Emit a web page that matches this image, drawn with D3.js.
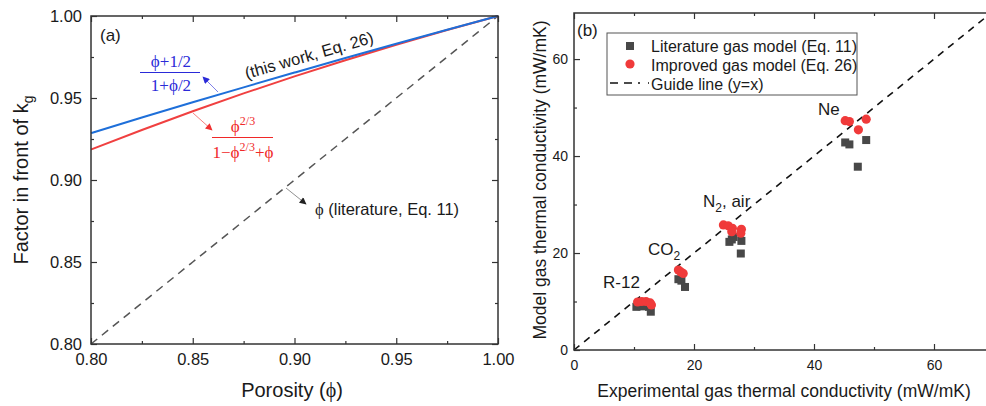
<!DOCTYPE html>
<html>
<head>
<meta charset="utf-8">
<script src="https://cdn.jsdelivr.net/npm/d3@7"></script>
<style>
  html, body { margin: 0; padding: 0; background: #fff; }
  svg { display: block; }
  text { font-family: "Liberation Sans", Arial, sans-serif; fill: #1a1a1a; }
  .serif { font-family: "Liberation Serif", "Times New Roman", serif; }
</style>
</head>
<body>
<svg id="chart" width="986" height="406"></svg>
<script>
// ---------- Panel (a) data ----------
const porosity      = [0.800, 0.825, 0.850, 0.875, 0.900, 0.925, 0.950, 0.975, 1.000];
const factorThisWork = [0.9286, 0.9381, 0.9474, 0.9565, 0.9655, 0.9744, 0.9831, 0.9916, 1.000];
const factorAlt      = [0.9186, 0.9305, 0.9419, 0.9528, 0.9632, 0.9730, 0.9825, 0.9915, 1.000];
const factorLit      = [0.800, 0.825, 0.850, 0.875, 0.900, 0.925, 0.950, 0.975, 1.000];
const aTicks = [0.80, 0.85, 0.90, 0.95, 1.00];
const aMinor = [0.825, 0.875, 0.925, 0.975];

// ---------- Panel (b) data ----------
const litExp   = [10.4, 11.3, 12.5, 12.8, 17.4, 17.9, 18.5, 25.9, 26.3, 26.6, 27.9, 27.8, 45.2, 45.9, 48.7, 47.3];
const litModel = [ 8.9,  9.0,  8.9,  7.9, 14.6, 14.3, 13.0, 22.3, 22.8, 23.3, 22.5, 19.9, 42.8, 42.4, 43.3, 37.8];
const impExp   = [10.6, 11.3, 12.0, 12.7, 12.9, 17.4, 17.8, 18.2, 24.9, 25.7, 26.4, 26.3, 27.9, 27.8, 45.2, 45.9, 47.4, 48.7];
const impModel = [ 9.9, 10.0, 10.0,  9.7,  9.3, 16.5, 16.1, 15.8, 25.8, 25.6, 25.1, 24.4, 24.9, 24.1, 47.3, 47.1, 45.4, 47.6];
const guideLine = [0, 70];
const bTicks = [0, 20, 40, 60];
const bMinor = [10, 30, 50];
const legendLabels = ["Literature gas model (Eq. 11)", "Improved gas model (Eq. 26)", "Guide line (y=x)"];

const svg = d3.select("#chart");
svg.append("rect").attr("width", 986).attr("height", 406).attr("fill", "#fff");

const frameColor = "#333";
const defs = svg.append("defs");
function arrowMarker(id, color) {
  defs.append("marker").attr("id", id).attr("viewBox", "0 0 10 10")
    .attr("refX", 9).attr("refY", 5).attr("markerWidth", 9).attr("markerHeight", 7)
    .attr("markerUnits", "userSpaceOnUse").attr("orient", "auto")
    .append("path").attr("d", "M0,0 L10,5 L0,10 z").attr("fill", color);
}
arrowMarker("arrBlue", "#2a2ad8");
arrowMarker("arrRed", "#f03030");
arrowMarker("arrGray", "#222");

function styleAxis(g, fs) {
  g.select(".domain").remove();
  g.selectAll(".tick line").attr("stroke", frameColor).attr("stroke-width", 1.2);
  g.selectAll(".tick text").attr("font-size", fs).attr("fill", "#1a1a1a")
    .attr("font-family", "Liberation Sans, Arial, sans-serif");
}

// ================= Panel (a) =================
const ax = d3.scaleLinear().domain([0.80, 1.00]).range([91, 498]);
const ay = d3.scaleLinear().domain([0.80, 1.00]).range([344, 16]);
const ga = svg.append("g");

// axes
const fmt2 = d3.format(".2f");
ga.append("g").attr("transform", "translate(0,344)")
  .call(d3.axisBottom(ax).tickValues(aTicks).tickFormat(fmt2).tickSize(-6).tickPadding(9))
  .call(g => styleAxis(g, 16.5));
ga.append("g").attr("transform", "translate(0,344)")
  .call(d3.axisBottom(ax).tickValues(aMinor).tickFormat("").tickSize(-3))
  .call(g => styleAxis(g, 0));
ga.append("g").attr("transform", "translate(0,16)")
  .call(d3.axisTop(ax).tickValues(aTicks).tickFormat("").tickSize(-6))
  .call(g => styleAxis(g, 0));
ga.append("g").attr("transform", "translate(0,16)")
  .call(d3.axisTop(ax).tickValues(aMinor).tickFormat("").tickSize(-3))
  .call(g => styleAxis(g, 0));
ga.append("g").attr("transform", "translate(91,0)")
  .call(d3.axisLeft(ay).tickValues(aTicks).tickFormat(fmt2).tickSize(-6).tickPadding(9))
  .call(g => styleAxis(g, 16.5));
ga.append("g").attr("transform", "translate(91,0)")
  .call(d3.axisLeft(ay).tickValues(aMinor).tickFormat("").tickSize(-3))
  .call(g => styleAxis(g, 0));
ga.append("g").attr("transform", "translate(498,0)")
  .call(d3.axisRight(ay).tickValues(aTicks).tickFormat("").tickSize(-6))
  .call(g => styleAxis(g, 0));
ga.append("g").attr("transform", "translate(498,0)")
  .call(d3.axisRight(ay).tickValues(aMinor).tickFormat("").tickSize(-3))
  .call(g => styleAxis(g, 0));

// lines
const lineA = d3.line().x((d, i) => ax(porosity[i])).y(d => ay(d)).curve(d3.curveMonotoneX);
ga.append("path").datum(factorLit).attr("d", lineA).attr("fill", "none")
  .attr("stroke", "#555").attr("stroke-width", 1.5).attr("stroke-dasharray", "8,6");
ga.append("path").datum(factorAlt).attr("d", lineA).attr("fill", "none")
  .attr("stroke", "#f04040").attr("stroke-width", 2);
ga.append("path").datum(factorThisWork).attr("d", lineA).attr("fill", "none")
  .attr("stroke", "#1e6fd9").attr("stroke-width", 2);

// frame
ga.append("rect").attr("x", 91).attr("y", 16).attr("width", 407).attr("height", 328)
  .attr("fill", "none").attr("stroke", frameColor).attr("stroke-width", 1.5);

// labels
ga.append("text").attr("x", 100).attr("y", 41).attr("font-size", 17).text("(a)");
ga.append("text").attr("x", 292).attr("y", 397).attr("text-anchor", "middle").attr("font-size", 20)
  .call(t => { t.append("tspan").text("Porosity ("); t.append("tspan").attr("class", "serif").text("ϕ"); t.append("tspan").text(")"); });
ga.append("text").attr("transform", "translate(28,180) rotate(-90)").attr("text-anchor", "middle").attr("font-size", 20)
  .call(t => { t.append("tspan").text("Factor in front of k"); t.append("tspan").attr("font-size", 14).attr("dy", 5).text("g"); });

ga.append("text").attr("transform", "translate(309,55) rotate(-16)").attr("text-anchor", "middle")
  .attr("dominant-baseline", "central").attr("font-size", 16.5).text("(this work, Eq. 26)");

// blue fraction
const blue = "#2a2ad8", red = "#f02828";
ga.append("text").attr("class", "serif").attr("x", 171).attr("y", 67).attr("text-anchor", "middle")
  .attr("font-size", 17).attr("fill", blue).style("fill", blue).text("ϕ+1/2");
ga.append("line").attr("x1", 140).attr("x2", 200).attr("y1", 72.5).attr("y2", 72.5).attr("stroke", blue).attr("stroke-width", 1.2);
ga.append("text").attr("class", "serif").attr("x", 171).attr("y", 91).attr("text-anchor", "middle")
  .attr("font-size", 17).style("fill", blue).text("1+ϕ/2");
ga.append("line").attr("x1", 218).attr("y1", 92).attr("x2", 203).attr("y2", 77)
  .attr("stroke", blue).attr("stroke-width", 0.6).attr("marker-end", "url(#arrBlue)");

// red fraction
ga.append("text").attr("class", "serif").attr("x", 243).attr("y", 132).attr("text-anchor", "middle")
  .attr("font-size", 17).style("fill", red)
  .call(t => { t.append("tspan").text("ϕ"); t.append("tspan").attr("font-size", 12).attr("dy", -7).text("2/3"); });
ga.append("line").attr("x1", 212).attr("x2", 273).attr("y1", 137.5).attr("y2", 137.5).attr("stroke", red).attr("stroke-width", 1.2);
ga.append("text").attr("class", "serif").attr("x", 243).attr("y", 158).attr("text-anchor", "middle")
  .attr("font-size", 17).style("fill", red)
  .call(t => {
    t.append("tspan").text("1−ϕ");
    t.append("tspan").attr("font-size", 12).attr("dy", -7).text("2/3");
    t.append("tspan").attr("dy", 7).text("+ϕ");
  });
ga.append("line").attr("x1", 193).attr("y1", 113).attr("x2", 212).attr("y2", 130)
  .attr("stroke", red).attr("stroke-width", 0.6).attr("marker-end", "url(#arrRed)");

// literature label
ga.append("line").attr("x1", 286).attr("y1", 188).attr("x2", 306).attr("y2", 204)
  .attr("stroke", "#444").attr("stroke-width", 0.6).attr("marker-end", "url(#arrGray)");
ga.append("text").attr("x", 315).attr("y", 215).attr("font-size", 16.5)
  .call(t => { t.append("tspan").attr("class", "serif").text("ϕ"); t.append("tspan").text(" (literature, Eq. 11)"); });

// ================= Panel (b) =================
const bx = d3.scaleLinear().domain([0, 70]).range([574, 994]);
const by = d3.scaleLinear().domain([0, 69.5]).range([350, 13]);
const gb = svg.append("g");

gb.append("g").attr("transform", "translate(0,350)")
  .call(d3.axisBottom(bx).tickValues(bTicks).tickSize(-6).tickPadding(10))
  .call(g => styleAxis(g, 14));
gb.append("g").attr("transform", "translate(0,350)")
  .call(d3.axisBottom(bx).tickValues(bMinor).tickFormat("").tickSize(-3))
  .call(g => styleAxis(g, 0));
gb.append("g").attr("transform", "translate(0,13)")
  .call(d3.axisTop(bx).tickValues(bTicks).tickFormat("").tickSize(-6))
  .call(g => styleAxis(g, 0));
gb.append("g").attr("transform", "translate(0,13)")
  .call(d3.axisTop(bx).tickValues(bMinor).tickFormat("").tickSize(-3))
  .call(g => styleAxis(g, 0));
gb.append("g").attr("transform", "translate(574,0)")
  .call(d3.axisLeft(by).tickValues(bTicks).tickSize(-6).tickPadding(6))
  .call(g => styleAxis(g, 14));
gb.append("g").attr("transform", "translate(574,0)")
  .call(d3.axisLeft(by).tickValues(bMinor).tickFormat("").tickSize(-3))
  .call(g => styleAxis(g, 0));
gb.append("g").attr("transform", "translate(994,0)")
  .call(d3.axisRight(by).tickValues(bTicks).tickFormat("").tickSize(-6))
  .call(g => styleAxis(g, 0));

// guide line
gb.append("line").attr("x1", bx(guideLine[0])).attr("y1", by(guideLine[0]))
  .attr("x2", bx(guideLine[1])).attr("y2", by(guideLine[1]))
  .attr("stroke", "#111").attr("stroke-width", 1.6).attr("stroke-dasharray", "7,6");

// points
gb.selectAll("rect.lit").data(litExp).join("rect").attr("class", "lit")
  .attr("x", (d) => bx(d) - 4).attr("y", (d, i) => by(litModel[i]) - 4)
  .attr("width", 8).attr("height", 8).attr("fill", "#484848");
gb.selectAll("circle.imp").data(impExp).join("circle").attr("class", "imp")
  .attr("cx", d => bx(d)).attr("cy", (d, i) => by(impModel[i])).attr("r", 4.6).attr("fill", "#f03a3a");

// frame (right side cut off by page edge)
gb.append("rect").attr("x", 574).attr("y", 13).attr("width", 420).attr("height", 337)
  .attr("fill", "none").attr("stroke", frameColor).attr("stroke-width", 1.5);

// labels
gb.append("text").attr("x", 577).attr("y", 36).attr("font-size", 17).text("(b)");
gb.append("text").attr("x", 784).attr("y", 397).attr("text-anchor", "middle").attr("font-size", 17.5)
  .text("Experimental gas thermal conductivity (mW/mK)");
gb.append("text").attr("transform", "translate(546,180) rotate(-90)").attr("text-anchor", "middle").attr("font-size", 17.5)
  .text("Model gas thermal conductivity (mW/mK)");

// gas labels
const gasPos = [[603, 288], [648, 255], [703, 207], [818, 115]];
function gasLabel(t, s) {
  const m = s.match(/^([A-Z]+)(2)(.*)$/);
  if (m && (s.startsWith("CO2") || s.startsWith("N2"))) {
    t.append("tspan").text(m[1]);
    t.append("tspan").attr("font-size", 12).attr("dy", 5).text(m[2]);
    t.append("tspan").attr("dy", -5).text(m[3]);
  } else t.text(s);
}
const gasLabels = ["R-12", "CO2", "N2, air", "Ne"];
gasLabels.forEach((s, i) => {
  gb.append("text").attr("x", gasPos[i][0]).attr("y", gasPos[i][1]).attr("font-size", 17).call(t => gasLabel(t, s));
});

// legend
const lg = gb.append("g");
lg.append("rect").attr("x", 607).attr("y", 33).attr("width", 250).attr("height", 62)
  .attr("fill", "#fff").attr("stroke", "#555").attr("stroke-width", 1);
lg.append("rect").attr("x", 626).attr("y", 42).attr("width", 8).attr("height", 8).attr("fill", "#484848");
lg.append("circle").attr("cx", 630).attr("cy", 64).attr("r", 4.6).attr("fill", "#f03a3a");
lg.append("line").attr("x1", 610).attr("x2", 649).attr("y1", 83).attr("y2", 83)
  .attr("stroke", "#111").attr("stroke-width", 1.6).attr("stroke-dasharray", "8,6,8,6,2");
legendLabels.forEach((s, i) => {
  lg.append("text").attr("x", 651).attr("y", 51.5 + i * 19).attr("font-size", 16).text(s);
});
</script>
</body>
</html>
